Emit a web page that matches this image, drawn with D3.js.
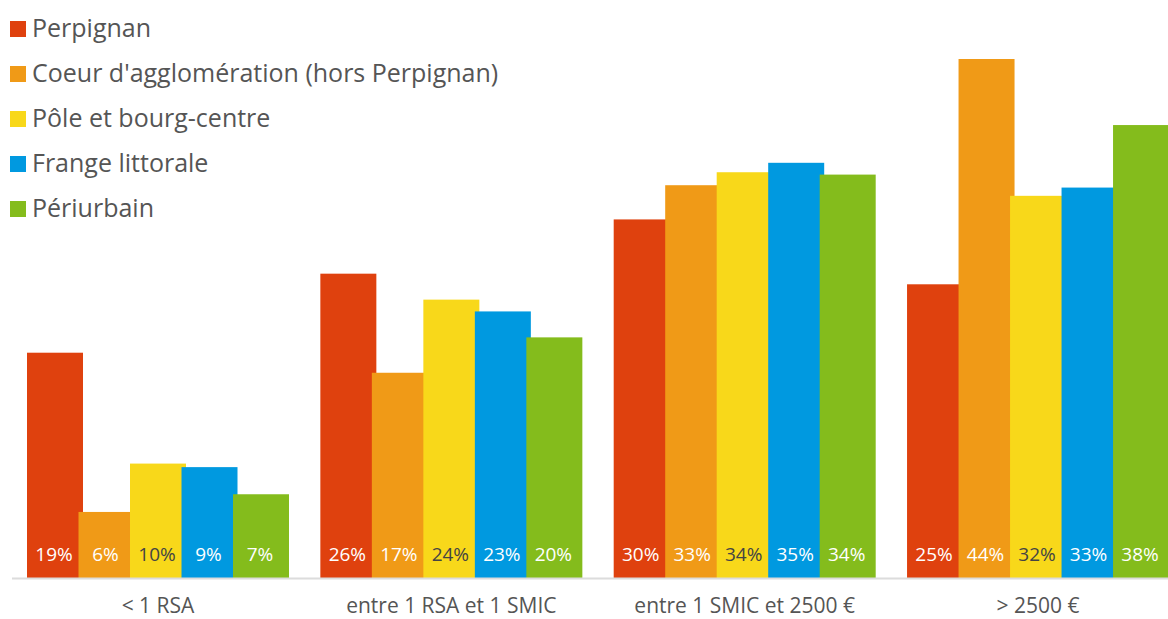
<!DOCTYPE html>
<html>
<head>
<meta charset="utf-8">
<script src="https://cdn.jsdelivr.net/npm/d3@7"></script>
<style>
  body { margin: 0; background: #fff; }
  text { font-family: "Open Sans", "Noto Sans", sans-serif; }
</style>
</head>
<body>
<svg id="chart" width="1168" height="619"></svg>
<script>
// categories (income brackets) and territories
let categories = ["< 1 RSA", "entre 1 RSA et 1 SMIC", "entre 1 SMIC et 2500 €", "> 2500 €"];
let series = ["Perpignan", "Coeur d'agglomération (hors Perpignan)", "Pôle et bourg-centre", "Frange littorale", "Périurbain"];
let colors = ["#df410e", "#f09a17", "#f8d81a", "#0099e0", "#84bc1c"];

// one array per territory, values in % (one per category)
let perpignan = [19.1, 25.8, 30.4, 24.9];
let coeur = [5.6, 17.4, 33.3, 44.0];
let pole = [9.7, 23.6, 34.4, 32.4];
let frange = [9.4, 22.6, 35.2, 33.1];
let periurbain = [7.1, 20.4, 34.2, 38.4];
let values = [perpignan, coeur, pole, frange, periurbain];

function getConfig() {
  let width = 1168;
  let height = 619;
  let baseline = 578;
  let container = d3.select("#chart");
  return {width, height, baseline, container};
}

function getScales(config) {
  let {baseline} = config;
  let xScale = d3.scaleBand()
    .domain(categories)
    .range([27, 1169])
    .paddingInner(0.107)
    .paddingOuter(0);
  // bars overlap a little, the step is narrower than the bar
  let xInner = d3.scaleBand()
    .domain(series)
    .range([0, 257.5]);
  let yScale = d3.scaleLinear()
    .domain([0, 44])
    .range([baseline, 59]);
  return {xScale, xInner, yScale};
}

function drawBars(config, scales) {
  let {container, baseline} = config;
  let {xScale, xInner, yScale} = scales;
  let barWidth = xInner.bandwidth() + 4.5;

  let rows = [];
  series.forEach((s, i) => {
    categories.forEach((c, j) => {
      rows.push({serie: s, cat: c, value: values[i][j], i: i});
    });
  });

  let g = container.append("g").attr("class", "bars");

  g.selectAll("rect")
    .data(rows)
    .enter()
    .append("rect")
      .attr("x", d => xScale(d.cat) + xInner(d.serie))
      .attr("y", d => yScale(d.value))
      .attr("width", barWidth)
      .attr("height", d => baseline - yScale(d.value))
      .attr("fill", d => colors[d.i]);

  // value labels at the bottom of each bar
  g.selectAll("text")
    .data(rows)
    .enter()
    .append("text")
      .attr("x", d => xScale(d.cat) + xInner(d.serie) + barWidth / 2 - 1)
      .attr("y", baseline - 17)
      .attr("text-anchor", "middle")
      .style("font-size", "19px")
      .attr("fill", d => d.i == 2 ? "#444" : "#fff")
      .text(d => Math.round(d.value) + "%");
}

function drawAxis(config, scales) {
  let {container, baseline} = config;
  let {xScale} = scales;
  let axis = container.append("g")
    .attr("class", "xaxis")
    .attr("transform", "translate(0," + baseline + ")")
    .call(d3.axisBottom(xScale).tickSize(0).tickPadding(20));
  axis.select(".domain")
    .attr("d", "M12,0.5H1168")
    .attr("stroke", "#dcdcdc")
    .attr("stroke-width", 2);
  axis.selectAll("text")
    .style("font-size", "21px")
    .style("font-family", "'Open Sans', sans-serif")
    .attr("fill", "#555");
}

function drawLegend(config) {
  let {container} = config;
  let legend = container.append("g").attr("class", "legend");
  let items = legend.selectAll("g")
    .data(series)
    .enter()
    .append("g")
      .attr("transform", (d, i) => "translate(10," + (21 + i * 45) + ")");
  items.append("rect")
    .attr("width", 16)
    .attr("height", 16)
    .attr("fill", (d, i) => colors[i]);
  items.append("text")
    .attr("x", 22)
    .attr("y", 16)
    .style("font-size", "25px")
    .attr("fill", "#555")
    .text(d => d);
}

let config = getConfig();
let scales = getScales(config);
drawBars(config, scales);
drawAxis(config, scales);
drawLegend(config);
</script>
</body>
</html>
